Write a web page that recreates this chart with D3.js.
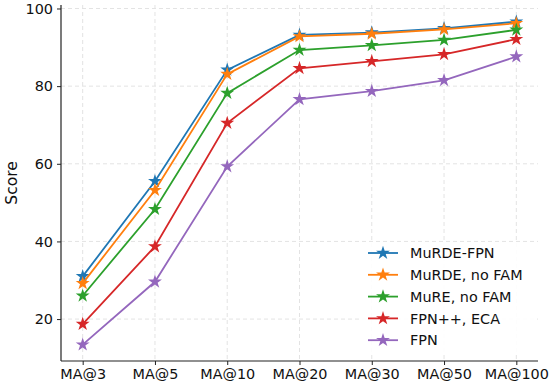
<!DOCTYPE html>
<html>
<head>
<meta charset="utf-8">
<script src="https://cdn.jsdelivr.net/npm/d3@7"></script>
<style>
  body { margin: 0; background: #fff; }
  svg { font-family: "DejaVu Sans", sans-serif; }
  .grid line { stroke: #e3e3e3; stroke-dasharray: 4,3; }
</style>
</head>
<body>
<div id="chart"></div>
<script>
var categories = ["MA@3", "MA@5", "MA@10", "MA@20", "MA@30", "MA@50", "MA@100"];
var seriesNames = ["MuRDE-FPN", "MuRDE, no FAM", "MuRE, no FAM", "FPN++, ECA", "FPN"];
var murdeFpn = [31.0, 55.5, 84.2, 93.2, 93.8, 94.9, 96.6];
var murdeNoFam = [29.2, 53.2, 83.1, 92.8, 93.5, 94.6, 96.2];
var mureNoFam = [26.0, 48.3, 78.2, 89.3, 90.5, 91.9, 94.5];
var fpnEca = [18.7, 38.7, 70.5, 84.6, 86.4, 88.2, 92.1];
var fpn = [13.4, 29.6, 59.3, 76.6, 78.7, 81.5, 87.6];
var colors = ["#1f77b4", "#ff7f0e", "#2ca02c", "#d62728", "#9467bd"];
var yTicks = [20, 40, 60, 80, 100];

var series = [murdeFpn, murdeNoFam, mureNoFam, fpnEca, fpn];

var w = 550, h = 390;
var mLeft = 61, mRight = 538, mTop = 5, mBottom = 361;
var fs = "14.4px";

var svg = d3.select("#chart").append("svg")
    .attr("width", w)
    .attr("height", h);

var xscale = d3.scaleLinear()
    .domain([-0.3, categories.length - 1 + 0.3])
    .range([mLeft, mRight]);

var yscale = d3.scaleLinear()
    .domain([9.2, 100.9])
    .range([mBottom, mTop]);

// grid
svg.append("g").attr("class", "grid")
    .selectAll("line").data(yTicks).enter().append("line")
    .attr("x1", mLeft).attr("x2", mRight)
    .attr("y1", d => yscale(d)).attr("y2", d => yscale(d));
svg.append("g").attr("class", "grid")
    .selectAll("line").data(categories).enter().append("line")
    .attr("x1", (d, i) => xscale(i)).attr("x2", (d, i) => xscale(i))
    .attr("y1", mTop).attr("y2", mBottom);

// axes
var yaxis = d3.axisLeft(yscale).tickValues(yTicks).tickSize(4).tickPadding(4);
var gy = svg.append("g")
    .attr("transform", "translate(" + mLeft + ",0)")
    .call(yaxis);
var xaxis = d3.axisBottom(xscale)
    .tickValues(d3.range(categories.length))
    .tickFormat(i => categories[i])
    .tickSize(4).tickPadding(4);
var gx = svg.append("g")
    .attr("transform", "translate(0," + mBottom + ")")
    .call(xaxis);
[gx, gy].forEach(g => {
    g.attr("font-size", fs).attr("font-family", "DejaVu Sans");
    g.select(".domain").attr("stroke", "#222").attr("stroke-width", 1.2);
    g.selectAll(".tick line").attr("stroke", "#222").attr("stroke-width", 1);
    g.selectAll("text").attr("fill", "#111");
});
// plain spines without end stubs
gy.select(".domain").attr("d", "M0," + mTop + "V" + mBottom);
gx.select(".domain").attr("d", "M" + mLeft + ",0H" + mRight);

svg.append("text")
    .attr("transform", "translate(17," + ((mTop + mBottom) / 2) + ") rotate(-90)")
    .attr("text-anchor", "middle")
    .attr("font-size", "15.5px")
    .attr("fill", "#111")
    .text("Score");

var line = d3.line()
    .x((d, i) => xscale(i))
    .y(d => yscale(d));

var star = d3.symbol().type(d3.symbolStar).size(60);

series.forEach((vals, k) => {
    svg.append("path")
        .datum(vals)
        .attr("d", line)
        .attr("fill", "none")
        .attr("stroke", colors[k])
        .attr("stroke-width", 1.8);
    svg.selectAll(".pt" + k)
        .data(vals)
        .enter().append("path")
        .attr("d", star)
        .attr("transform", (d, i) => "translate(" + xscale(i) + "," + yscale(d) + ")")
        .attr("fill", colors[k]);
});

// legend
var lg = svg.append("g");
lg.append("rect")
    .attr("x", 361).attr("y", 242)
    .attr("width", 174).attr("height", 110)
    .attr("fill", "white").attr("fill-opacity", 0.9);
seriesNames.forEach((name, k) => {
    var y = 253 + k * 21.8;
    lg.append("line")
        .attr("x1", 368).attr("x2", 398)
        .attr("y1", y).attr("y2", y)
        .attr("stroke", colors[k]).attr("stroke-width", 1.8);
    lg.append("path")
        .attr("d", star)
        .attr("transform", "translate(383," + y + ")")
        .attr("fill", colors[k]);
    lg.append("text")
        .attr("x", 410).attr("y", y)
        .attr("dy", "0.36em")
        .attr("font-size", fs)
        .attr("fill", "#111")
        .text(name);
});
</script>
</body>
</html>
